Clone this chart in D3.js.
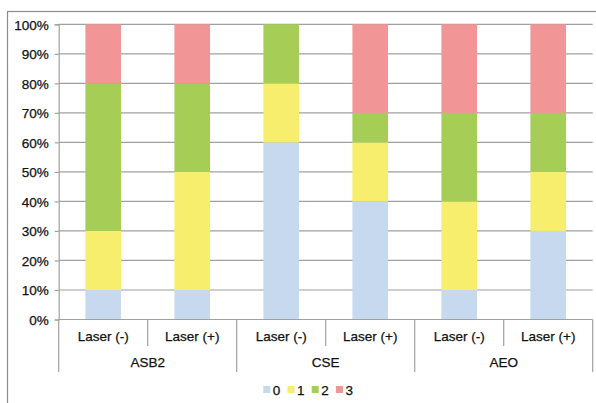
<!DOCTYPE html>
<html><head><meta charset="utf-8">
<script src="https://cdn.jsdelivr.net/npm/d3@7"></script>
<style>body{margin:0;background:#fff}svg{display:block}text{font-family:"Liberation Sans",Arial,sans-serif;fill:#111;stroke:#111;stroke-width:0.25px}</style>
</head><body>
<svg id="c" width="596" height="403"></svg>
<script>
const groups = ["ASB2", "CSE", "AEO"];
const subLabels = ["Laser (-)", "Laser (+)"];
const seriesKeys = ["0", "1", "2", "3"];
const seriesColors = ["#c6d9ef", "#f6ee6c", "#a6cd56", "#f29597"];
const s0 = [10, 10, 60, 40, 10, 30];
const s1 = [20, 40, 20, 20, 30, 20];
const s2 = [50, 30, 20, 10, 30, 20];
const s3 = [20, 20, 0, 30, 30, 30];
const yTicks = [0, 10, 20, 30, 40, 50, 60, 70, 80, 90, 100];

const bars = [];
groups.forEach((g, gi) => subLabels.forEach((s, si) => bars.push({ id: g + "|" + s, group: g, sub: s })));
const vals = [s0, s1, s2, s3];
const table = bars.map((b, i) => { const r = { id: b.id }; seriesKeys.forEach((k, j) => r[k] = vals[j][i]); return r; });

const svg = d3.select("#c");
const L = 58.7, R = 592.7, T = 24.3, B = 319.5;
const x = d3.scaleBand().domain(bars.map(b => b.id)).range([L, R]).paddingInner(0.6).paddingOuter(0.3);
const y = d3.scaleLinear().domain([0, 100]).range([B, T]);
const gx = d3.scaleBand().domain(groups).range([L, R]);
const grid = "#a0a0a0";

svg.append("rect").attr("x", 7.5).attr("y", 11.5).attr("width", 620).attr("height", 420)
  .attr("fill", "none").attr("stroke", "#8c8c8c").attr("stroke-width", 1.2);

// gridlines
svg.append("g").selectAll("line").data(yTicks.filter(t => t > 0)).join("line")
  .attr("x1", L).attr("x2", R).attr("y1", d => y(d)).attr("y2", d => y(d))
  .attr("stroke", grid).attr("stroke-width", 1.2);

// y axis
const ya = svg.append("g").attr("transform", `translate(${L},0)`)
  .call(d3.axisLeft(y).tickValues(yTicks).tickFormat(d => d + "%").tickSize(4).tickPadding(6));
ya.select(".domain").attr("stroke", grid).attr("stroke-width", 1.2);
ya.selectAll(".tick line").attr("stroke", grid).attr("stroke-width", 1.2);
ya.selectAll("text").style("font-size", "13.5px").attr("fill", "#111").attr("dy", "0.36em");

// bars
const stack = d3.stack().keys(seriesKeys)(table);
svg.append("g").selectAll("g").data(stack).join("g")
  .attr("fill", (d, i) => seriesColors[i])
  .selectAll("rect").data(d => d).join("rect")
  .attr("x", d => x(d.data.id)).attr("width", x.bandwidth())
  .attr("y", d => y(d[1])).attr("height", d => y(d[0]) - y(d[1]));

// category axis
svg.append("line").attr("x1", L).attr("x2", R).attr("y1", B).attr("y2", B).attr("stroke", grid).attr("stroke-width", 1.2);
bars.forEach((b, i) => {
  const xc = x(b.id) + x.bandwidth() / 2;
  svg.append("text").attr("x", xc).attr("y", 340.5).attr("text-anchor", "middle")
    .style("font-size", "13.5px").text(b.sub);
});
groups.forEach(g => {
  const x0 = gx(g), xm = x0 + gx.bandwidth() / 2;
  svg.append("line").attr("x1", xm).attr("x2", xm).attr("y1", B).attr("y2", 346)
    .attr("stroke", grid).attr("stroke-width", 1.2);
  svg.append("text").attr("x", xm).attr("y", 366.5).attr("text-anchor", "middle")
    .style("font-size", "13.5px").text(g);
});
[...groups.map(g => gx(g)), R].forEach(xv => {
  svg.append("line").attr("x1", xv).attr("x2", xv).attr("y1", B).attr("y2", 372)
    .attr("stroke", grid).attr("stroke-width", 1.2);
});

// legend
const lg = svg.append("g");
seriesKeys.forEach((k, i) => {
  const lx = 263.3 + i * 24.2;
  lg.append("rect").attr("x", lx).attr("y", 386).attr("width", 7).attr("height", 7).attr("fill", seriesColors[i]);
  lg.append("text").attr("x", lx + 9.5).attr("y", 394.5).style("font-size", "13.5px").text(k);
});
</script>
</body></html>
